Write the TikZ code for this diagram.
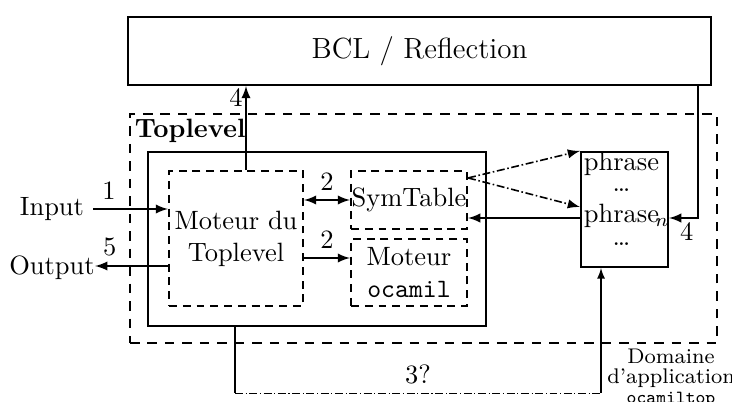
\documentclass[tikz,border=0pt]{standalone}
\usepackage{amsmath}
\usepackage{amssymb}
\usepackage{tikz}
\usetikzlibrary{calc}
\newcommand{\pxu}{0.01327cm}
\tikzset{
  solidbox/.style={rectangle, draw, thick, inner sep=0pt},
  dashbox/.style={rectangle, draw, thick, dash pattern=on 3pt off 2.2pt, inner sep=0pt},
  flow/.style={semithick, -latex},
}

\begin{document}
\begin{tikzpicture}[x=\pxu, y=-\pxu]
\useasboundingbox (0,0) rectangle (732,401);

\node[solidbox, minimum width=583*\pxu, minimum height=68*\pxu, font=\fontsize{11}{13}\selectfont] (bcl) at (419.5,51) {BCL / Reflection};
\node[dashbox, dash pattern=on 3.6pt off 3pt, minimum width=587*\pxu, minimum height=229*\pxu] (toplevel) at (423.5,228.5) {};
\node[anchor=north west, inner sep=2pt, font=\bfseries] (tltitle) at (toplevel.north west) {Toplevel};
\node[solidbox, minimum width=338*\pxu, minimum height=174*\pxu] (inner) at (317,239) {};
\node[dashbox, align=center, minimum width=134*\pxu, minimum height=135*\pxu] (moteur) at (236,238.5) {Moteur du\\Toplevel};
\node[dashbox, minimum width=116*\pxu, minimum height=58*\pxu] (symtable) at (409,200) {SymTable};
\node[dashbox, align=center, minimum width=116*\pxu, minimum height=67*\pxu] (ocamil) at (409,272.5) {Moteur\\\texttt{ocamil}};
\node[solidbox, minimum width=87*\pxu, minimum height=115*\pxu] (phrase) at (624.5,209.5) {};
\node[anchor=north, align=center, inner sep=1pt] (phrasetxt) at ($(phrase.north)+(-3,-2)$) {phrase\\[-4pt]\ldots\\[-0.5pt]phrase\rlap{\kern-1.5pt$_n$}\\[-3pt]\ldots};

\node (input) at (52,209) {Input};
\node[inner sep=0pt] (output) at (52,268) {Output};
\node[font=\footnotesize, align=center] (domaine) at (671,378) {Domaine\\[-2pt]d'application\\[-2pt]{\scriptsize\texttt{ocamiltop}}};

% entrees / sorties
\draw[flow] (input.east) -- (input.east -| moteur.west) node[pos=0.21, above] {1};
\draw[flow] ($(moteur.west)+(0,27.5)$) coordinate (m5) -- (m5 -| output.east) node[pos=0.8, above] {5};
\draw[semithick, latex-latex] (moteur.east |- symtable.west) -- (symtable.west) node[midway, above] {2};
\draw[flow] ($(moteur.east)+(0,19.5)$) coordinate (m2) -- (m2 -| ocamil.west) node[midway, above] {2};

% reflection
\draw[flow] ($(moteur.north)+(10,0)$) coordinate (m4) -- (m4 |- bcl.south) node[pos=0.86, left, inner sep=1pt] {4};
\draw[flow] ($(bcl.south east)+(-14,0)$) |- ($(phrase.east)+(0,8.5)$) node[pos=0.5, below left, inner sep=1.5pt] {4};

% phrases
\draw[flow] ($(phrase.west)+(0,8.5)$) coordinate (p1) -- (p1 -| symtable.east);
\draw[semithick, densely dashdotted, -latex] ($(symtable.north east)+(0,8)$) coordinate (s1) -- (phrase.north west);
\draw[semithick, densely dashdotted, -latex] (s1) -- ($(phrase.west)+(0,-2.5)$);

% 3?
\coordinate (q1) at ($(inner.south)+(-82,0)$);
\coordinate (q2) at ($(q1)+(0,66)$);
\coordinate (q3) at ($(phrase.south)+(-23.5,0)$);
\draw[thin] (q1) -- (q2);
\draw[thin, densely dashdotted] (q2) -- (q2 -| q3) node[midway, above] {3?};
\draw[thin, -latex] (q2 -| q3) -- (q3);
\end{tikzpicture}
\end{document}
